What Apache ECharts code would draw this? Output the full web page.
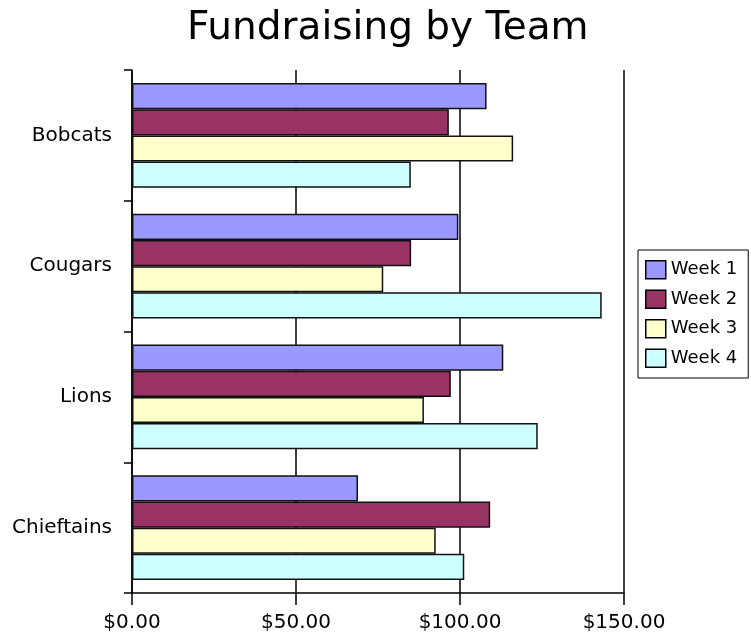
<!DOCTYPE html>
<html>
<head>
<meta charset="utf-8">
<script src="https://cdn.jsdelivr.net/npm/echarts@6/dist/echarts.min.js"></script>
<style>html,body{margin:0;padding:0;background:#fff;}#c{width:751px;height:637px;}</style>
</head>
<body>
<div id="c"></div>
<script>
const categories = ['Bobcats', 'Cougars', 'Lions', 'Chieftains'];
const seriesNames = ['Week 1', 'Week 2', 'Week 3', 'Week 4'];
const week1 = [108.1, 99.5, 113.2, 68.9];
const week2 = [96.6, 85.1, 97.2, 109.2];
const week3 = [116.2, 76.6, 89.0, 92.6];
const week4 = [85.0, 143.2, 123.7, 101.3];
const xTicks = [0, 50, 100, 150];
const colors = ['#9999ff', '#993366', '#ffffcc', '#ccffff'];

const FONT = 'DejaVu Sans';
const values = [week1, week2, week3, week4];

const chart = echarts.init(document.getElementById('c'));
chart.setOption({
  animation: false,
  backgroundColor: '#fff',
  title: {
    text: 'Fundraising by Team',
    left: 187, top: 9, padding: 0,
    textStyle: { fontFamily: FONT, fontSize: 39, fontWeight: 'normal', color: '#000' }
  },
  legend: {
    orient: 'vertical',
    left: 638, top: 250,
    padding: [10, 11, 10, 7],
    itemWidth: 20, itemHeight: 18, itemGap: 10,
    borderColor: '#000', borderWidth: 1,
    icon: 'rect',
    itemStyle: { borderColor: '#000', borderWidth: 1.5 },
    textStyle: { fontFamily: FONT, fontSize: 18, color: '#000', padding: [0, 0, 0, 0] },
    data: seriesNames
  },
  grid: { left: 132, right: 127, top: 70, bottom: 44, containLabel: false },
  xAxis: {
    type: 'value',
    min: xTicks[0], max: xTicks[xTicks.length - 1], interval: 50,
    axisLine: { show: true, lineStyle: { color: '#000', width: 1.5 } },
    axisTick: { show: true, length: 12, lineStyle: { color: '#000', width: 1.5 } },
    splitLine: { show: true, lineStyle: { color: '#000', width: 1.5 } },
    axisLabel: {
      margin: 20, fontFamily: FONT, fontSize: 20, color: '#000',
      formatter: v => '$' + v.toFixed(2)
    }
  },
  yAxis: {
    type: 'category',
    data: categories,
    inverse: true,
    axisLine: { show: true, lineStyle: { color: '#000', width: 1.5 } },
    axisTick: { show: true, length: 8, lineStyle: { color: '#000', width: 1.5 } },
    splitLine: { show: false },
    axisLabel: { margin: 20, fontFamily: FONT, fontSize: 20, color: '#000' }
  },
  series: seriesNames.map((n, i) => ({
    name: n,
    type: 'bar',
    data: values[i],
    barGap: '0%',
    barCategoryGap: '20%',
    itemStyle: { color: colors[i], borderColor: '#111', borderWidth: 1.5 }
  }))
});
</script>
</body>
</html>
